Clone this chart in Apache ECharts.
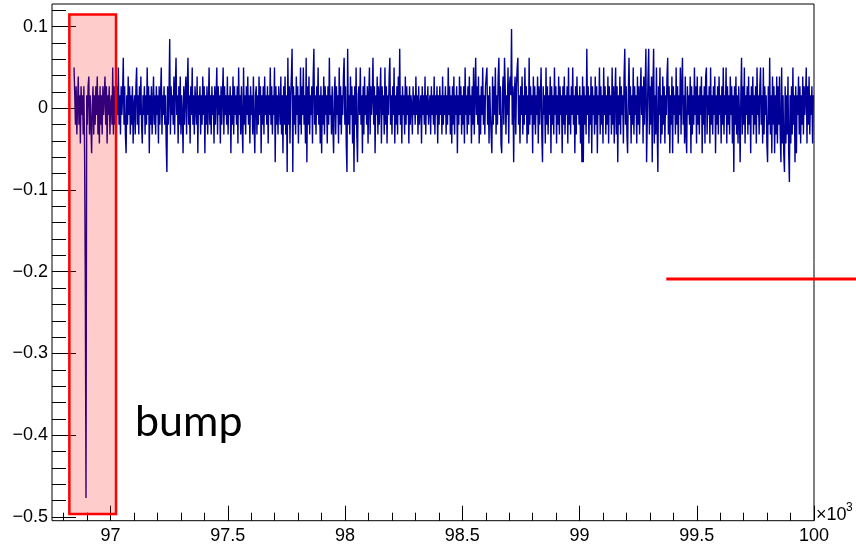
<!DOCTYPE html>
<html>
<head>
<meta charset="utf-8">
<script src="https://cdn.jsdelivr.net/npm/echarts@6/dist/echarts.min.js"></script>
<style>
  html, body { margin: 0; padding: 0; background: #fff; }
  #chart { width: 856px; height: 547px; }
</style>
</head>
<body>
<div id="chart"></div>
<script>
// Histogram binning (x in units of 10^3)
const binStart = 96.844;
const binWidth = 0.003;

// Bin contents
const residual = [
  .050, .016, -.020, .027, -.032, .004, .039, -.020, .016, -.043, .027, -.008, .016, -.032, .027, -.055, -.209, -.477, .016, -.020,
  .027, .039, -.032, .016, -.020, -.055, .004, .027, -.032, .016, -.020, .027, -.008, .039, -.032, .016, -.043, .027, -.020, .016,
  -.032, .027, -.008, .016, .039, -.020, .027, -.043, .016, -.008, .027, -.032, .004, .016, -.020, .050, -.032, .027, -.020, .016,
  -.043, .027, -.008, .050, -.020, .016, -.032, .027, -.008, .016, .062, -.020, .027, -.032, -.055, .016, -.020, .039, -.008, .027,
  -.032, .016, -.020, .027, -.043, .004, .016, -.032, .027, .050, -.020, .016, -.032, .027, -.008, .039, -.020, -.043, .016, -.008,
  .027, -.032, .016, -.020, .050, -.008, .027, -.055, .016, -.020, .027, -.032, .004, .039, -.020, .016, -.032, .027, -.008, .016,
  -.043, .027, -.020, .016, .050, -.032, .016, -.008, .027, -.020, .016, -.043, -.078, .027, -.020, .016, .085, -.032, .027, -.008,
  .016, -.020, .039, -.032, .027, .062, -.008, .016, -.043, .027, -.020, .039, -.032, .016, -.008, -.055, .027, -.020, .016, .039,
  -.032, .027, .062, -.020, .016, -.043, .027, -.008, .050, -.020, .016, -.032, .027, .004, -.020, .039, -.055, .016, -.008, .027,
  -.032, .016, -.020, .039, -.008, .027, -.055, .016, -.020, .027, -.032, .004, .050, -.020, .016, -.032, .027, -.008, .016, -.043,
  .027, -.020, .016, .050, -.032, .027, -.008, .016, -.043, .027, -.020, .016, .050, -.032, .027, -.008, .016, -.020, .039, -.032,
  .016, -.008, .027, -.055, .016, -.020, .039, -.032, .027, -.008, .016, -.020, .027, -.043, .050, -.008, .016, -.032, .027, -.020,
  -.055, .050, -.020, .016, -.032, .027, -.008, .039, -.020, .016, -.043, .027, -.008, .016, -.032, .039, -.020, -.055, .016, .027,
  -.032, .016, -.020, .039, -.008, .027, -.055, .016, -.020, .027, -.032, .039, -.008, .016, -.020, .027, -.043, .016, -.008, .050,
  -.020, .027, -.032, .016, -.008, .050, -.066, .027, -.020, .016, -.032, .027, .004, -.020, .039, -.032, .016, -.055, .027, -.020,
  .039, -.032, .016, -.078, .062, -.020, .027, -.043, .016, .039, .073, -.078, .027, -.020, .016, -.032, .039, -.008, .027, -.043,
  .016, -.020, .050, -.032, .027, -.008, .050, -.020, .016, -.043, .062, -.066, .027, -.020, .039, -.032, .016, -.008, .027, -.043,
  .039, .073, -.020, .016, -.032, .027, -.008, .050, -.020, .016, -.043, .027, -.055, .016, -.020, .039, -.032, .027, -.008, .016,
  -.043, .027, -.020, .062, -.008, .016, -.032, .027, -.020, -.055, .016, .039, -.032, .027, -.008, .016, -.043, .050, -.020, .027,
  -.032, .016, -.008, .039, .062, -.020, .027, -.043, -.078, .073, -.020, .016, -.032, .039, -.008, .027, -.043, .016, -.078, .027,
  -.020, .050, -.032, -.066, .016, .027, -.008, .050, -.020, .016, -.055, .027, -.032, .039, -.008, .016, -.020, .027, -.043, .016,
  .050, -.032, .027, -.008, .016, .062, -.020, .027, -.055, .016, -.008, .039, -.032, .027, -.020, .016, .050, -.043, .027, -.008,
  .016, -.032, .050, -.020, .027, -.043, .016, -.008, .039, .062, -.020, .016, -.032, .027, -.008, .050, -.043, .016, -.020, .027,
  -.032, .039, -.008, .073, -.020, .016, -.043, .027, -.008, .016, -.032, .039, -.020, .027, -.008, .016, -.043, .027, -.020, .016,
  .004, -.032, .027, -.008, .016, -.020, .039, -.008, .016, -.032, .027, -.020, .004, .016, -.043, .027, -.008, .016, -.020, .039,
  -.032, .016, -.008, .027, -.020, .004, .016, -.032, .027, -.008, .016, -.020, .039, -.032, .016, -.008, .027, -.043, .016, -.020,
  .027, -.008, .016, -.032, .039, -.020, .016, -.008, .027, -.032, .016, -.020, .050, -.008, .027, -.032, .016, -.043, .027, -.020,
  .039, -.032, .016, -.008, .027, -.055, .016, -.020, .039, -.008, .027, -.032, .016, -.020, .027, -.043, .050, -.008, .016, -.032,
  .027, -.020, .039, -.008, .016, -.043, .027, -.020, .050, -.032, .016, .062, -.008, .027, -.020, .039, -.043, .016, -.032, .027,
  -.008, .050, -.020, .016, -.032, .027, .039, .050, -.020, .016, -.043, .027, -.008, -.032, -.055, .039, -.020, .027, -.008, .050,
  -.032, .016, -.020, .039, .062, -.008, .027, -.043, -.055, .016, .039, -.020, .062, .027, -.032, .016, -.008, .050, -.043, .027,
  .039, .016, .097, -.020, .027, -.066, .016, .039, -.032, .027, .050, .062, -.020, .016, -.043, .027, -.008, .039, -.032, .016,
  -.020, .050, -.008, .027, -.043, .016, -.032, .062, -.020, .027, -.008, .016, -.055, .039, -.020, .027, -.032, .016, -.008, .039,
  -.043, .027, -.020, .016, .050, -.032, -.066, .027, -.008, .016, -.043, .050, -.020, .027, -.032, .016, -.008, .039, -.055, .027,
  -.020, .016, -.032, .050, -.008, .027, -.043, .016, -.020, .039, -.032, .027, -.008, .016, -.055, .027, -.020, .039, -.032, .016,
  -.008, .027, -.043, .050, -.020, .016, -.032, .027, -.008, .050, -.020, .016, -.055, .027, -.032, .039, -.008, .016, -.020, .027,
  -.043, .016, -.066, .039, -.066, .027, -.020, .016, -.032, .073, -.008, .027, -.043, .016, -.020, .039, -.055, .027, -.008, .016,
  -.032, .039, -.020, .027, -.055, .016, -.008, .050, -.032, .027, -.020, .016, -.043, .050, -.008, .027, -.032, .016, -.020, .039,
  -.043, .027, -.008, .016, -.032, .050, -.020, .027, -.043, .016, .050, -.032, .027, -.066, .016, -.020, .039, -.032, .027, -.008,
  .016, -.043, .039, .073, -.020, .027, -.032, -.055, .016, .062, -.008, .027, -.043, .016, -.020, .050, -.032, .027, -.008, .016,
  -.043, .039, -.020, .027, -.032, .016, .050, -.008, .027, -.043, .039, -.020, .027, .073, -.066, -.066, .039, .073, -.032, .027,
  -.020, .039, -.066, .027, .073, -.043, .016, -.032, .050, -.020, -.078, .027, -.008, .050, -.043, .016, -.032, .039, -.020, .027,
  -.043, .016, -.008, .039, .062, -.032, .027, -.055, .016, -.020, .039, -.055, .027, -.008, .016, -.032, .050, -.020, .027, -.043,
  .016, -.008, .050, -.032, .027, .062, -.020, .016, -.043, .039, -.032, -.055, .027, -.008, .016, -.020, .039, -.055, .027, -.032,
  .016, -.020, .050, -.008, .027, -.043, .039, -.020, .016, -.032, .027, -.008, .039, -.055, .016, -.020, .027, -.043, .039, .050,
  -.032, .016, -.008, .027, -.043, .050, -.020, .016, -.032, .027, -.008, .039, -.055, .016, -.020, .027, -.032, .039, -.008, .016,
  -.043, .027, -.020, .050, -.032, .016, -.008, .050, -.043, .027, -.020, .016, -.032, .039, -.008, .027, -.043, .016, -.078, .027,
  -.020, .039, -.032, .016, -.043, .027, -.008, -.066, .016, .062, -.032, .027, -.020, .050, -.043, .016, -.008, .027, -.032, .039,
  -.020, .016, -.055, .027, -.008, .039, -.032, .016, -.020, .027, -.043, .050, -.008, .016, -.032, .027, .050, -.020, .016, -.043,
  .050, -.032, .027, -.008, .016, -.043, -.066, .027, -.020, .062, -.032, .016, -.055, .039, -.020, .027, -.055, .016, -.032, .039,
  -.043, .027, -.020, .039, -.032, -.066, .050, -.043, .016, -.055, -.078, .027, -.043, .016, -.032, .039, -.055, -.090, .016, -.043,
  .027, -.032, .050, -.020, .016, -.066, .027, -.055, .016, -.008, .039, -.032, .027, -.043, .016, -.020, .039, -.032, .027, -.008,
  .016, .050, -.043, .027, -.020, .039, -.032, .016, -.008, .027, -.043, .016
];

// Axis ticks and labels
const xMajorTicks = [97, 97.5, 98, 98.5, 99, 99.5, 100];
const xMinorTicks = [96.8, 96.9, 97.0, 97.1, 97.2, 97.3, 97.4, 97.5, 97.6, 97.7, 97.8, 97.9,
  98.0, 98.1, 98.2, 98.3, 98.4, 98.5, 98.6, 98.7, 98.8, 98.9,
  99.0, 99.1, 99.2, 99.3, 99.4, 99.5, 99.6, 99.7, 99.8, 99.9];
const yMajorTicks = [-0.5, -0.4, -0.3, -0.2, -0.1, 0, 0.1];
const yMinorTicks = [-0.5, -0.48, -0.46, -0.44, -0.42, -0.4, -0.38, -0.36, -0.34, -0.32,
  -0.3, -0.28, -0.26, -0.24, -0.22, -0.2, -0.18, -0.16, -0.14, -0.12,
  -0.1, -0.08, -0.06, -0.04, -0.02, 0, 0.02, 0.04, 0.06, 0.08, 0.1, 0.12];
const xRange = [96.75, 100];
const yRange = [-0.5047, 0.1277];
const xUnitBase = '\u00d710';
const xUnitExp = '3';

// Highlighted region around the bump and the reference level of its first step
const bumpBoxX = [96.824, 97.023];
const bumpBoxY = [-0.4966, 0.115];
const bumpLabel = 'bump';
const guideLevel = -0.209;
const guideX = [99.37, 100.18];

const histPoints = residual.map((v, i) => [binStart + i * binWidth, v]);
histPoints.push([binStart + residual.length * binWidth, residual[residual.length - 1]]);

const labelFont = { fontFamily: 'Liberation Sans', fontSize: 18, color: '#000' };
const minusFmt = v => (v < 0 ? '\u2212' : '') + String(Math.abs(v));

const chart = echarts.init(document.getElementById('chart'), null, { renderer: 'canvas' });
chart.setOption({
  animation: false,
  backgroundColor: '#fff',
  grid: {
    left: 52, top: 4, width: 762, height: 516.7,
    show: true, borderColor: '#000', borderWidth: 1, backgroundColor: 'transparent'
  },
  xAxis: [
    {
      type: 'value', min: xRange[0], max: xRange[1], position: 'bottom',
      axisLine: { show: false, onZero: false },
      splitLine: { show: false },
      axisTick: { show: true, inside: true, length: 15, customValues: xMajorTicks, lineStyle: { color: '#000', width: 1 } },
      axisLabel: Object.assign({ show: true, margin: 6, customValues: xMajorTicks, formatter: v => String(v) }, labelFont)
    },
    {
      type: 'value', min: xRange[0], max: xRange[1], position: 'bottom', offset: 0,
      axisLine: { show: false, onZero: false }, splitLine: { show: false }, axisLabel: { show: false },
      axisTick: { show: true, inside: true, length: 8, customValues: xMinorTicks, lineStyle: { color: '#000', width: 1 } }
    }
  ],
  yAxis: [
    {
      type: 'value', min: yRange[0], max: yRange[1], position: 'left',
      axisLine: { show: false, onZero: false },
      splitLine: { show: false },
      axisTick: { show: true, inside: true, length: 24, customValues: yMajorTicks, lineStyle: { color: '#000', width: 1 } },
      axisLabel: Object.assign({ show: true, margin: 4, customValues: yMajorTicks, formatter: minusFmt }, labelFont)
    },
    {
      type: 'value', min: yRange[0], max: yRange[1], position: 'left', offset: 0,
      axisLine: { show: false, onZero: false }, splitLine: { show: false }, axisLabel: { show: false },
      axisTick: { show: true, inside: true, length: 14, customValues: yMinorTicks, lineStyle: { color: '#000', width: 1 } }
    }
  ],
  series: [
    {
      name: 'residual', type: 'line', step: 'end',
      data: histPoints, symbol: 'none', showSymbol: false,
      lineStyle: { color: '#000099', width: 1.4 },
      z: 2, silent: true
    },
    {
      name: 'annotations', type: 'line',
      data: [[bumpBoxX[0], bumpBoxY[0]]], symbol: 'none', showSymbol: false,
      lineStyle: { width: 0 }, z: 5, silent: true,
      markArea: {
        silent: true, z: 10,
        itemStyle: { color: 'rgba(255,0,0,0.2)', borderColor: '#ff0000', borderWidth: 2.5 },
        label: { show: false },
        data: [[{ coord: [bumpBoxX[0], bumpBoxY[1]] }, { coord: [bumpBoxX[1], bumpBoxY[0]] }]]
      }
    }
  ]
});

// Annotations placed through the chart's own scales
const g0 = chart.convertToPixel({ gridIndex: 0 }, [guideX[0], guideLevel]);
const g1 = chart.convertToPixel({ gridIndex: 0 }, [guideX[1], guideLevel]);
const xEnd = chart.convertToPixel({ gridIndex: 0 }, [xRange[1], yRange[0]]);
chart.setOption({
  graphic: [
    {
      type: 'line', z: 20, silent: true,
      shape: { x1: g0[0], y1: g0[1], x2: g1[0], y2: g1[1] },
      style: { stroke: '#ff0000', lineWidth: 3 }
    },
    {
      type: 'text', x: 135, y: 422, z: 20, silent: true,
      style: { text: bumpLabel, fontFamily: 'Lato', fontSize: 43, fill: '#000', verticalAlign: 'middle', align: 'left' }
    },
    {
      type: 'text', x: xEnd[0] + 2, y: xEnd[1] - 6, z: 20, silent: true,
      style: { text: xUnitBase, fontFamily: 'Liberation Sans', fontSize: 18, fill: '#000', verticalAlign: 'middle', align: 'left' }
    },
    {
      type: 'text', x: xEnd[0] + 32, y: xEnd[1] - 13, z: 20, silent: true,
      style: { text: xUnitExp, fontFamily: 'Liberation Sans', fontSize: 12, fill: '#000', verticalAlign: 'middle', align: 'left' }
    }
  ]
});
</script>
</body>
</html>
